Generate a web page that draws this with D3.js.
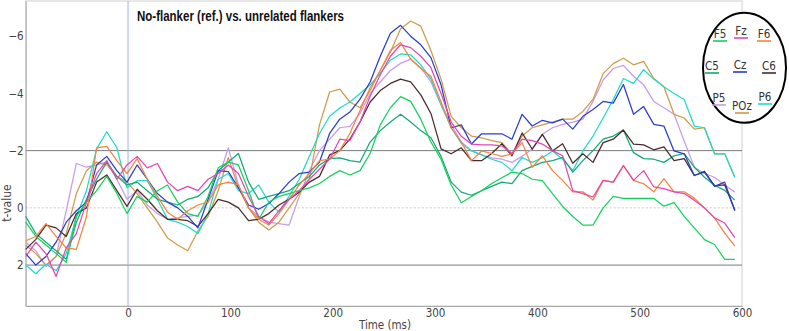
<!DOCTYPE html>
<meta charset="utf-8">
<style>
  body { margin: 0; background: #fff; }
  text { font-family: "DejaVu Sans Condensed", "DejaVu Sans", sans-serif; font-stretch: condensed; }
</style>
<body>
<script src="https://cdn.jsdelivr.net/npm/d3@7"></script>
<script>
    // sample times (ms), one sample about every 9.9 ms
    var times = [-100, -90.1, -80.2, -70.3, -60.4, -50.5, -40.6, -30.7, -20.8, -10.9,
        -1, 8.9, 18.8, 28.7, 38.6, 48.5, 58.4, 68.3, 78.2, 88.1,
        98, 107.9, 117.8, 127.7, 137.6, 147.5, 157.4, 167.3, 177.2, 187.1,
        197, 206.9, 216.8, 226.7, 236.6, 246.5, 256.4, 266.3, 276.2, 286.1,
        296, 305.9, 315.8, 325.7, 335.6, 345.5, 355.4, 365.3, 375.2, 385.1,
        395, 404.9, 414.8, 424.7, 434.6, 444.5, 454.4, 464.3, 474.2, 484.1,
        494, 503.9, 513.8, 523.7, 533.6, 543.5, 553.4, 563.3, 573.2, 583.1,
        593];

    // t-values per electrode
    var F5 = [0.5, 1.0, 1.3, 1.6, 1.9, 0.3, -0.2, -0.6, -1.1, -0.5,
        0.2, -0.4, -0.2, -0.6, -0.8, -0.2, 0.2, 0.3, -0.4, -1.4,
        -1.6, -1.5, -0.6, 0.4, -0.2, -0.4, -0.5, -0.6, -0.7, -0.85,
        -1.1, -1.3, -1.15, -1.3, -1.9, -2.9, -3.5, -3.89, -3.72, -3.1,
        -2.3, -1.7, -0.8, -0.18, -0.4, -0.6, -0.85, -1.05, -1.25, -1.2,
        -1.0, -0.95, -0.5, -0.05, 0.3, 0.6, 0.6, 0.0, -0.4, -0.33,
        -0.33, -0.33, -0.33, -0.06, -0.18, 0.3, 0.7, 1.11, 1.28, 1.8,
        1.8];
    var Fz = [1.7, 1.2, 1.6, 2.4, 1.4, 0.9, -0.2, -1.2, -1.65, -1.0,
        -1.5, -1.8, -1.4, -1.55, -0.9, -0.6, -0.75, -0.6, -1.0, -1.2,
        -1.5, -1.2, -0.4, 0.3, 0.55, 0.1, -0.3, -0.6, -1.0, -1.35,
        -1.7, -2.4, -2.35, -3.0, -3.9, -4.65, -5.3, -5.7, -5.6, -5.3,
        -4.9, -4.0, -3.0, -2.5, -2.23, -2.2, -2.2, -2.17, -1.89, -2.4,
        -2.35, -2.23, -2.0, -1.82, -0.6, -0.5, -0.38, -0.96, -0.9, -1.48,
        -0.96, -1.3, -0.73, -0.67, -0.56, -0.5, -0.27, 0.0, 0.35, 0.53,
        1.04];
    var F6 = [1.15, 1.0, 0.55, 1.0, 1.4, 1.45, 0.3, -2.1, -2.15, -1.65,
        -1.2, -1.72, -1.0, -0.4, 0.15, 0.4, 0.1, -0.1, -0.2, -0.8,
        -0.9, -0.8, 0.0, 0.4, 0.6, 0.2, -0.3, -0.8, -1.2, -1.65,
        -1.7, -2.0, -2.6, -3.4, -4.2, -4.8, -5.5, -5.78, -5.2, -4.87,
        -4.6, -3.7, -2.8, -2.3, -1.65, -1.99, -1.9, -1.8, -1.89, -2.28,
        -1.42, -1.82, -1.3, -0.96, -0.56, -0.56, -0.27, -0.96, -0.9, -1.48,
        -0.96, -0.84, -0.56, -1.02, -0.56, -0.56, -0.34, 0.0, 0.35, 0.88,
        1.34];
    var C5 = [0.3, 0.9, 1.2, 1.5, 1.8, 0.5, -0.3, -1.0, -1.6, -1.1,
        -0.8, -0.9, -0.6, -0.3, -0.2, -0.1, -0.3, -0.4, -0.7, -1.3,
        -1.6, -1.9, -0.9, -0.3, -0.4, -0.5, -0.6, -0.85, -1.1, -1.5,
        -1.72, -1.75, -1.65, -1.6, -2.3, -2.7, -3.0, -3.27, -3.0, -2.7,
        -2.45, -1.8, -0.9, -0.55, -0.44, -0.6, -0.75, -0.9, -0.85, -1.3,
        -1.45, -1.59, -1.65, -1.76, -1.25, -1.65, -2.0, -2.4, -2.51, -2.72,
        -1.93, -1.72, -1.7, -1.59, -1.82, -1.9, -1.42, -1.07, -0.79, -0.61,
        -0.27];
    var Cz = [1.6, 2.0, 1.7, 1.2, 0.5, 0.1, -0.2, -1.5, -1.8, -1.3,
        -0.9, -1.5, -1.0, -0.5, -0.2, 0.0, 0.3, 0.7, -0.3, -1.3,
        -1.27, -0.7, -0.1, 0.05, -0.15, -0.5, -0.9, -1.2, -1.25, -1.6,
        -2.6, -3.1, -3.35, -3.8, -4.4, -5.3, -6.1, -6.38, -6.0, -5.7,
        -5.25, -4.3, -2.8, -2.9, -2.23, -2.59, -2.59, -2.59, -2.4, -3.27,
        -2.86, -3.06, -2.97, -3.1, -2.75, -3.2, -3.44, -3.72, -3.66, -4.31,
        -3.27, -3.54, -2.92, -2.86, -1.99, -1.89, -1.13, -1.25, -0.75, -0.9,
        0.1];
    var C6 = [1.45, 1.1, 0.6, 0.7, 1.0, 0.2, 0.0, -0.9, -1.15, -0.6,
        -0.05, -0.65, -0.3, 0.1, 0.4, 0.4, 0.45, 0.65, 0.2, -0.3,
        -0.2, 0.0, 0.45, 0.4, 0.2, -0.1, -0.3, -0.55, -0.9, -1.1,
        -1.85, -2.0, -2.4, -3.0, -3.7, -4.1, -4.35, -4.5, -4.4, -3.95,
        -3.3, -2.06, -1.89, -2.1, -1.65, -1.65, -1.9, -2.24, -1.82, -2.62,
        -2.05, -2.57, -1.99, -2.24, -1.56, -1.89, -1.59, -2.28, -2.4, -2.72,
        -2.23, -2.2, -2.03, -2.13, -1.65, -1.72, -1.13, -1.28, -0.77, -0.8,
        0.08];
    var P5 = [1.2, 1.5, 2.05, 1.7, 0.1, -1.55, -1.42, -1.5, -1.6, -1.0,
        -0.3, -0.6, -0.1, 0.2, 0.4, 0.35, 0.3, 0.25, -0.2, -1.0,
        -2.1, -0.8, 0.0, 0.3, 0.5, 0.55, 0.6, -0.4, -1.3, -2.0,
        -2.4, -2.8, -2.85, -3.3, -4.0, -4.4, -4.8, -5.05, -5.2, -4.9,
        -4.4, -3.6, -2.9, -2.3, -2.0, -1.85, -1.75, -1.7, -1.59, -1.8,
        -2.06, -2.57, -2.8, -2.92, -3.0, -3.1, -3.72, -4.47, -4.87, -4.98,
        -4.6, -4.3, -3.72, -3.5, -3.27, -2.34, -1.42, -1.2, -1.07, -0.8,
        -0.55];
    var POz = [1.3, 1.6, 2.0, 1.7, 0.9, -0.5, -1.3, -1.6, -1.5, -1.1,
        -0.9, -0.5, 0.0, 0.5, 1.05, 1.3, 1.5, 0.8, 0.3, -0.6,
        -1.76, -0.7, 0.0, 0.5, 0.77, 0.5, 0.0, -0.5, -1.0, -2.9,
        -4.05, -4.15, -3.7, -3.5, -4.1, -4.8, -5.45, -6.25, -6.53, -6.35,
        -5.5, -4.5, -3.2, -2.8, -2.51, -2.45, -2.35, -2.28, -1.89, -2.51,
        -2.8, -2.9, -3.0, -3.1, -3.1, -3.37, -3.79, -4.69, -5.04, -5.23,
        -5.0, -5.12, -4.52, -4.23, -3.27, -3.14, -2.75, -2.8, -1.89, -1.89,
        -1.07];
    var P6 = [2.0, 2.3, 1.97, 2.2, 1.6, 0.3, -0.6, -2.06, -2.66, -2.1,
        -0.7, -0.95, -0.95, -0.3, 0.4, 0.5, 0.65, 0.9, 0.2, -1.0,
        -1.2, -0.6, -0.5, -0.8, -0.2, 0.15, -0.4, -1.0, -1.8, -2.6,
        -3.2, -3.49, -3.7, -4.0, -4.3, -4.7, -5.16, -5.38, -5.35, -5.0,
        -4.5, -3.6, -2.8, -2.25, -1.99, -1.85, -1.7, -1.59, -1.3, -1.76,
        -1.59, -1.75, -1.99, -1.7, -1.3, -1.99, -2.51, -3.14, -3.79, -4.52,
        -4.35, -4.83, -4.5, -4.23, -4.0, -3.79, -2.86, -2.8, -1.89, -1.89,
        -1.07];

    var electrodes = ["F5", "Fz", "F6", "C5", "Cz", "C6", "P5", "POz", "P6"];
    var values = [F5, Fz, F6, C5, Cz, C6, P5, POz, P6];
    var colors = ["#14d35c", "#e845b2", "#f4843f", "#13a877", "#2a3ecf", "#4b2c2c", "#c99be8", "#cf9a4c", "#1fdcc8"];

    var yTicks = [-6, -4, -2, 0, 2];
    var xTicks = [0, 100, 200, 300, 400, 500, 600];
    var thresholds = [-2, 2];

    // where each label sits inside the head outline
    var legendPos = [[720, 34], [741, 31], [764, 34], [712, 66], [740, 65], [769, 66], [719, 98], [742, 106], [765, 97]];

    var svg = d3.select("body").append("svg")
        .attr("width", 789)
        .attr("height", 331);

    var x = d3.scaleLinear().domain([-100, 600]).range([25.7, 742]);
    var y = d3.scaleLinear().domain([-7.23, 3.43]).range([1, 306]);

    // frame
    svg.append("rect")
        .attr("x", x(-100)).attr("y", y(-7.23))
        .attr("width", x(600) - x(-100)).attr("height", y(3.43) - y(-7.23))
        .attr("fill", "none").attr("stroke", "#d0d0d0");

    // zero line (dotted)
    svg.append("line")
        .attr("x1", x(-100)).attr("x2", x(600))
        .attr("y1", y(0)).attr("y2", y(0))
        .attr("stroke", "#cfc4c4").attr("stroke-dasharray", "2,2");

    // +-2 lines
    svg.selectAll(".thr").data(thresholds).enter().append("line")
        .attr("x1", x(-100)).attr("x2", x(600))
        .attr("y1", function(d) { return y(d); })
        .attr("y2", function(d) { return y(d); })
        .attr("stroke", "#7a7a7a");

    // stimulus onset
    svg.append("line")
        .attr("x1", x(0)).attr("x2", x(0))
        .attr("y1", y(-7.23)).attr("y2", y(3.43))
        .attr("stroke", "#9db3ee");

    // axes
    var gy = svg.append("g")
        .attr("transform", "translate(" + x(-100) + ",0)")
        .call(d3.axisLeft(y).tickValues(yTicks).tickSize(0).tickPadding(2));
    gy.select(".domain").attr("stroke", "#a8a8a8");

    var gx = svg.append("g")
        .attr("transform", "translate(0," + y(3.43) + ")")
        .call(d3.axisBottom(x).tickValues(xTicks).tickSize(0).tickPadding(3));
    gx.select(".domain").attr("stroke", "#a8a8a8");

    svg.selectAll(".tick text")
        .attr("fill", "#444")
        .style("font-size", "11.5px")
        .style("font-family", null);

    // lines
    var line = d3.line()
        .x(function(d, i) { return x(times[i]); })
        .y(function(d) { return y(d); });

    var order = [6, 7, 8, 3, 5, 4, 0, 2, 1];
    svg.selectAll(".series").data(order).enter().append("path")
        .attr("fill", "none")
        .attr("stroke", function(k) { return colors[k]; })
        .attr("stroke-width", 1.25)
        .attr("stroke-linejoin", "round")
        .attr("d", function(k) { return line(values[k]); });

    // labels
    svg.append("text")
        .attr("x", 137).attr("y", 21)
        .attr("textLength", 207).attr("lengthAdjust", "spacingAndGlyphs")
        .style("font-family", "'Liberation Sans Narrow', 'Liberation Sans', Arial, sans-serif")
        .style("font-weight", "bold").style("font-size", "14px")
        .attr("fill", "#111")
        .text("No-flanker (ref.) vs. unrelated flankers");

    svg.append("text")
        .attr("x", 385).attr("y", 329)
        .attr("text-anchor", "middle")
        .style("font-size", "11.5px").attr("fill", "#444")
        .text("Time (ms)");

    svg.append("text")
        .attr("transform", "translate(11,203) rotate(-90)")
        .attr("text-anchor", "middle")
        .style("font-size", "12px").attr("fill", "#444")
        .text("t-value");

    // head legend
    svg.append("ellipse")
        .attr("cx", 744.5).attr("cy", 67.7)
        .attr("rx", 41.5).attr("ry", 55)
        .attr("fill", "#fff").attr("stroke", "#000").attr("stroke-width", 2);

    var leg = svg.selectAll(".leg").data(electrodes).enter().append("g")
        .attr("transform", function(d, i) { return "translate(" + legendPos[i][0] + "," + legendPos[i][1] + ")"; });
    leg.append("text")
        .attr("text-anchor", "middle").attr("y", 4)
        .style("font-size", "11.5px").attr("fill", "#333")
        .text(function(d) { return d; });
    leg.append("line")
        .attr("x1", -7).attr("x2", 7).attr("y1", 7).attr("y2", 7)
        .attr("stroke", function(d, i) { return colors[i]; })
        .attr("stroke-width", 1.6);
</script>
</body>
